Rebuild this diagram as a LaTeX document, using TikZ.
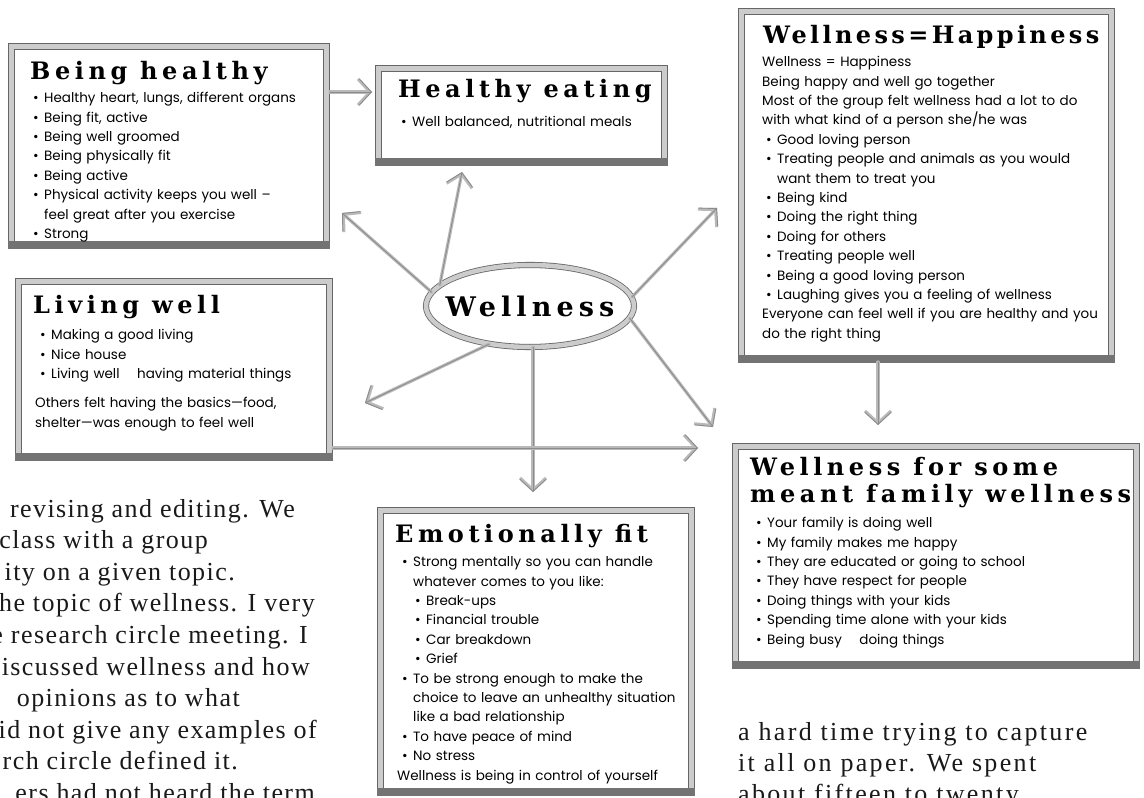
\documentclass[tikz,border=0pt]{standalone}
\usepackage{fontspec}
\setmainfont{Liberation Serif}
\newfontfamily\bodyf{Poppins}
\newfontfamily\titlef[LetterSpace=19]{DejaVu Serif}
\newfontfamily\titlefb[LetterSpace=14]{DejaVu Serif}
\newfontfamily\parf[LetterSpace=9]{Liberation Serif}
\newfontfamily\parfl[LetterSpace=5.5]{Liberation Serif}
\usetikzlibrary{arrows.meta,shapes.geometric}
\newlength\bindent
\newcommand\bitem[1]{\par\noindent\hspace*{\bindent}\makebox[11pt][l]{\textbullet}#1}
\newcommand\bcont[1]{\par\noindent\hspace*{\dimexpr\bindent+11pt\relax}#1}
\newcommand\bsub[1]{\par\noindent\hspace*{\dimexpr\bindent+13pt\relax}\makebox[11pt][l]{\textbullet}#1}
\newcommand\bline[1]{\par\noindent #1}
\begin{document}
\begin{tikzpicture}[x=1pt,y=-1pt,
  frame/.style={draw=black!60, line width=0.8pt, double=gray!40, double distance=5pt, fill=white, inner sep=0pt, outer sep=0pt, anchor=north west},
  ttl/.style={font=\titlef\bfseries\fontsize{24}{27}\selectfont, inner sep=0pt, anchor=base west},
  body/.style={font=\bodyf\fontsize{13.5}{19.4}\selectfont, text=black, inner sep=0pt, anchor=north west, align=left, text width=360pt},
  para/.style={font=\parf\fontsize{26}{31.6}\selectfont, text=black!90, inner sep=0pt},
  paral/.style={font=\parfl\fontsize{26}{31.6}\selectfont, text=black!90, inner sep=0pt},
  conn/.style={draw=gray!55, line width=3.2pt, line cap=round,
    -{Straight Barb[length=12pt, width=26pt, line width=3pt]},
    postaction={draw=black!45, line width=0.9pt, -{Straight Barb[length=12pt, width=26pt, line width=0.9pt]}}}
]
\useasboundingbox (0,0) rectangle (1144,798);
\fill[white] (0,0) rectangle (1144,798);
\newcommand\shadebottom[1]{\fill[black!55] ([shift={(-3.3,-3.3)}]#1.south west) rectangle ([shift={(3.3,4.2)}]#1.south east);}

% boxes
\node[frame, minimum width=315.4pt, minimum height=198.4pt] (bh) at (11.3,46.3) {};
\node[frame, minimum width=286.4pt, minimum height=93.4pt] (he) at (378.3,68.3) {};
\node[frame, minimum width=370.4pt, minimum height=347.4pt] (hp) at (741.3,11.3) {};
\node[frame, minimum width=311.4pt, minimum height=175.4pt] (lw) at (18.3,281.3) {};
\node[frame, minimum width=311.4pt, minimum height=281.4pt] (emo) at (380.3,510.3) {};
\node[frame, minimum width=401.4pt, minimum height=218.4pt] (fam) at (735.3,446.3) {};
\shadebottom{bh}\shadebottom{he}\shadebottom{hp}\shadebottom{lw}\shadebottom{emo}\shadebottom{fam}

% central ellipse
\node[ellipse, draw=black!60, line width=0.8pt, double=gray!40, double distance=4.5pt, fill=white, minimum width=208pt, minimum height=82pt, inner sep=0pt, font=\titlef\bfseries\fontsize{27}{30}\selectfont] (w) at (530,306) {\makebox[0pt]{Wellness}};

% connectors
\draw[conn] ([shift={(3.3,-53.5)}]bh.east) -- ([shift={(-6.3,-23)}]he.west);
\draw[conn] (w.172) -- ([shift={(15.3,-31.7)}]bh.south east);
\draw[conn] (w.167) -- ([shift={(83.7,10.3)}]he.south west);
\draw[conn] (w.5) -- ([shift={(-24.3,196.7)}]hp.north west);
\draw[conn] (w.-7) -- ([shift={(-22.3,-19.3)}]fam.north west);
\draw[conn] ([xshift=3pt]w.south) -- ([shift={(152.7,-18.3)}]emo.north west);
\draw[conn] (w.-137) -- ([shift={(35.3,121.7)}]lw.north east);
\draw[conn] ([shift={(3.3,-8.7)}]lw.south east) -- ([shift={(-37.3,1.7)}]fam.north west);
\draw[conn] ([shift={(136.7,3.3)}]hp.south west) -- ([shift={(142.7,-21.3)}]fam.north west);

% Being healthy
\node[ttl] (bht) at (30,79) {Being healthy};
\node[body] (bhb) at (33,83) {\setlength\bindent{0pt}%
\bitem{Healthy heart, lungs, different organs}
\bitem{Being fit, active}
\bitem{Being well groomed}
\bitem{Being physically fit}
\bitem{Being active}
\bitem{Physical activity keeps you well –}
\bcont{feel great after you exercise}
\bitem{Strong}};

% Healthy eating
\node[ttl] (het) at (398,97) {Healthy eating};
\node[body] (heb) at (401,107) {\setlength\bindent{0pt}%
\bitem{Well balanced, nutritional meals}};

% Wellness = Happiness
\node[ttl, font=\titlefb\bfseries\fontsize{24}{27}\selectfont] (hpt) at (763,43) {Wellness=Happiness};
\node[body] (hpb) at (762,47) {\setlength\bindent{4pt}%
\bline{Wellness = Happiness}
\bline{Being happy and well go together}
\bline{Most of the group felt wellness had a lot to do}
\bline{with what kind of a person she/he was}
\bitem{Good loving person}
\bitem{Treating people and animals as you would}
\bcont{want them to treat you}
\bitem{Being kind}
\bitem{Doing the right thing}
\bitem{Doing for others}
\bitem{Treating people well}
\bitem{Being a good loving person}
\bitem{Laughing gives you a feeling of wellness}
\bline{Everyone can feel well if you are healthy and you}
\bline{do the right thing}};

% Living well
\node[ttl] (lwt) at (33,313) {Living well};
\node[body] (lwb) at (35,320) {\setlength\bindent{5pt}%
\bitem{Making a good living}
\bitem{Nice house}
\bitem{Living well\hspace{1.3em}having material things}
\par\vspace{10pt}
\bline{Others felt having the basics—food,}
\bline{shelter—was enough to feel well}};

% Emotionally fit
\node[ttl] (emot) at (395,542) {Emotionally fit};
\node[body] (emob) at (397,547) {\setlength\bindent{5pt}%
\bitem{Strong mentally so you can handle}
\bcont{whatever comes to you like:}
\bsub{Break-ups}
\bsub{Financial trouble}
\bsub{Car breakdown}
\bsub{Grief}
\bitem{To be strong enough to make the}
\bcont{choice to leave an unhealthy situation}
\bcont{like a bad relationship}
\bitem{To have peace of mind}
\bitem{No stress}
\bline{Wellness is being in control of yourself}};

% Family wellness
\node[ttl] (famt1) at (750,475) {Wellness for some};
\node[ttl] (famt2) at (750,502) {meant family wellness};
\node[body] (famb) at (754,508) {\setlength\bindent{2pt}%
\bitem{Your family is doing well}
\bitem{My family makes me happy}
\bitem{They are educated or going to school}
\bitem{They have respect for people}
\bitem{Doing things with your kids}
\bitem{Spending time alone with your kids}
\bitem{Being busy\hspace{1.3em}doing things}};

% running text, left column (cut by page edge)
\node[paral, anchor=base east] (p1) at (295,517) {revising and editing. We};
\node[paral, anchor=base east] (p2) at (208,548.6) {class with a group};
\node[paral, anchor=base east] (p3) at (235,580.2) {ity on a given topic.};
\node[paral, anchor=base east] (p4) at (315,611.8) {the topic of wellness. I very};
\node[paral, anchor=base east] (p5) at (308,643.4) {e research circle meeting. I};
\node[paral, anchor=base east] (p6) at (310,675) {iscussed wellness and how};
\node[paral, anchor=base east] (p7) at (240,706.6) {opinions as to what};
\node[paral, anchor=base east] (p8) at (317,738.2) {id not give any examples of};
\node[paral, anchor=base east] (p9) at (238,769.8) {rch circle defined it.};
\node[paral, anchor=base east] (p10) at (315,801.4) {ers had not heard the term};

% running text, right column
\node[para, anchor=base west] (q1) at (738,740) {a hard time trying to capture};
\node[para, anchor=base west] (q2) at (738,771) {it all on paper. We spent};
\node[para, anchor=base west] (q3) at (738,802) {about fifteen to twenty};
\end{tikzpicture}
\end{document}
